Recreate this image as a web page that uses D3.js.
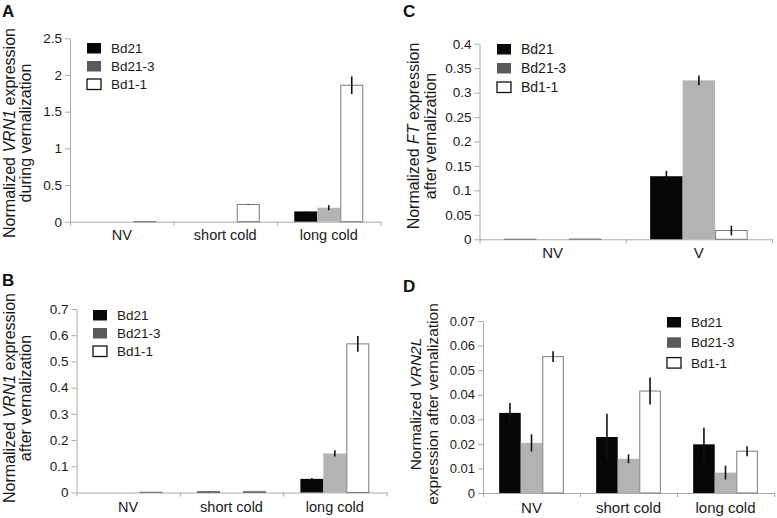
<!DOCTYPE html>
<html><head><meta charset="utf-8">
<script src="https://cdn.jsdelivr.net/npm/d3@7"></script>
<style>
html,body{margin:0;padding:0;background:#fff;}
svg{display:block;font-family:"Liberation Sans",Arial,sans-serif;}
</style></head>
<body><svg id="c" width="777" height="518"></svg>
<script>
// ---------- data ----------
const seriesNames = ["Bd21", "Bd21-3", "Bd1-1"];

const catsA = ["NV", "short cold", "long cold"];
const aBd21 = [0, 0, 0.14];
const aBd213 = [0, 0, 0.19];
const aBd11 = [0.002, 0.235, 1.86];
const aErrBd21 = [0, 0, 0.004];
const aErrBd213 = [0, 0, 0.035];
const aErrBd11 = [0, 0.005, 0.12];
const aTicks = [0, 0.5, 1, 1.5, 2, 2.5];

const catsB = ["NV", "short cold", "long cold"];
const bBd21 = [0, 0.004, 0.052];
const bBd213 = [0, 0, 0.149];
const bBd11 = [0.001, 0.004, 0.567];
const bErrBd21 = [0, 0.001, 0.003];
const bErrBd213 = [0, 0, 0.012];
const bErrBd11 = [0, 0, 0.03];
const bTicks = [0, 0.1, 0.2, 0.3, 0.4, 0.5, 0.6, 0.7];

const catsC = ["NV", "V"];
const cBd21 = [0.001, 0.129];
const cBd213 = [0, 0.325];
const cBd11 = [0.0005, 0.018];
const cErrBd21 = [0, 0.011];
const cErrBd213 = [0, 0.01];
const cErrBd11 = [0, 0.01];
const cTicks = [0, 0.05, 0.1, 0.15, 0.2, 0.25, 0.3, 0.35, 0.4];

const catsD = ["NV", "short cold", "long cold"];
const dBd21 = [0.0326, 0.0228, 0.0198];
const dBd213 = [0.0204, 0.0139, 0.0083];
const dBd11 = [0.0555, 0.0415, 0.017];
const dErrBd21 = [0.004, 0.0095, 0.0068];
const dErrBd213 = [0.0035, 0.0018, 0.0028];
const dErrBd11 = [0.0022, 0.0055, 0.002];
const dTicks = [0, 0.01, 0.02, 0.03, 0.04, 0.05, 0.06, 0.07];

// ---------- styles ----------
const barFill = ["#060606", "#b3b3b3", "#ffffff"];
const barStroke = ["none", "none", "#7a7a7a"];
const legFill = ["#060606", "#5a5a5a", "#ffffff"];
const legStroke = ["none", "none", "#111"];
const axisColor = "#aaaaaa";
const textColor = "#1a1a1a";

const svg = d3.select("#c");

function panel(o) {
  const g = svg.append("g");
  const x = d3.scaleBand().domain(o.cats).range([o.x0, o.x1]).paddingInner(0).paddingOuter(0);
  const bw = x.bandwidth();
  const xs = d3.scaleBand().domain(seriesNames).range([bw / 6, bw * 5 / 6]).padding(0);
  const y = d3.scaleLinear().domain([0, o.ticks[o.ticks.length - 1]]).range([o.y0, o.yTop]);

  // y axis
  const ya = g.append("g").attr("transform", `translate(${o.x0},0)`)
    .call(d3.axisLeft(y).tickValues(o.ticks).tickSize(5).tickSizeOuter(0).tickPadding(3)
      .tickFormat(d => d3.format("~g")(d)));
  ya.select(".domain").attr("stroke", axisColor);
  ya.selectAll(".tick line").attr("stroke", axisColor);
  ya.selectAll(".tick text").attr("fill", textColor).attr("font-size", o.tickFs)
    .attr("font-family", "Liberation Sans, Arial, sans-serif");

  // x axis boundaries
  const xb = d3.scaleLinear().domain([0, o.cats.length]).range([o.x0, o.x1]);
  const xa = g.append("g").attr("transform", `translate(0,${o.y0})`)
    .call(d3.axisBottom(xb).tickValues(d3.range(0, o.cats.length + 1)).tickSize(4).tickSizeOuter(0).tickFormat(""));
  xa.select(".domain").attr("stroke", axisColor);
  xa.selectAll(".tick line").attr("stroke", axisColor);

  // category labels
  g.selectAll(".cat").data(o.cats).join("text")
    .attr("x", d => x(d) + bw / 2).attr("y", o.y0 + o.catDy)
    .attr("text-anchor", "middle").attr("font-size", o.catFs).attr("fill", textColor)
    .text(d => d);

  // bars
  seriesNames.forEach((s, si) => {
    const vals = o.vals[si], errs = o.errs[si];
    g.selectAll(".b" + si).data(o.cats).join("rect")
      .attr("x", (d) => x(d) + xs(s) + (si === 2 ? 0.5 : 0))
      .attr("width", xs.bandwidth() - (si === 2 ? 1 : 0))
      .attr("y", (d, i) => y(vals[i]))
      .attr("height", (d, i) => Math.max(0, o.y0 - y(vals[i])))
      .attr("fill", barFill[si]).attr("stroke", barStroke[si]).attr("stroke-width", 1);
    g.selectAll(".e" + si).data(o.cats).join("line")
      .filter((d, i) => errs[i] > 0)
      .attr("x1", d => x(d) + xs(s) + xs.bandwidth() / 2)
      .attr("x2", d => x(d) + xs(s) + xs.bandwidth() / 2)
      .attr("y1", d => y(vals[o.cats.indexOf(d)] + errs[o.cats.indexOf(d)]))
      .attr("y2", d => y(vals[o.cats.indexOf(d)] - errs[o.cats.indexOf(d)]))
      .attr("stroke", "#111").attr("stroke-width", 1.6);
  });

  // legend
  seriesNames.forEach((s, si) => {
    const ly = o.legY + si * o.legStep;
    g.append("rect").attr("x", o.legX).attr("y", ly).attr("width", 14).attr("height", 10.5)
      .attr("fill", legFill[si]).attr("stroke", legStroke[si]).attr("stroke-width", 1.3);
    g.append("text").attr("x", o.legX + 24).attr("y", ly + 10)
      .attr("font-size", o.legFs).attr("fill", textColor).text(s);
  });

  // panel letter
  g.append("text").attr("x", o.letX).attr("y", o.letY).attr("font-size", 17)
    .attr("font-weight", "bold").attr("fill", "#111").text(o.letter);

  // y title
  const cy = o.titleCy;
  o.title.forEach((line, li) => {
    const t = g.append("text")
      .attr("transform", `translate(${o.titleX[li]},${cy}) rotate(-90)`)
      .attr("text-anchor", "middle").attr("font-size", o.titleFs).attr("fill", textColor);
    line.forEach(part => {
      t.append("tspan").attr("font-style", part[1] ? "italic" : "normal").text(part[0]);
    });
  });
}

panel({
  cats: catsA, vals: [aBd21, aBd213, aBd11], errs: [aErrBd21, aErrBd213, aErrBd11], ticks: aTicks,
  x0: 70, x1: 380.5, yTop: 38.3, y0: 221.7, tickFs: 13.5, catFs: 14.5, catDy: 18.5,
  legX: 87, legY: 43, legStep: 18, legFs: 13.5, letter: "A", letX: 2, letY: 17,
  title: [[["Normalized ", 0], ["VRN1", 1], [" expression", 0]], [["during vernalization", 0]]],
  titleX: [14.5, 31], titleCy: 133, titleFs: 16
});
panel({
  cats: catsB, vals: [bBd21, bBd213, bBd11], errs: [bErrBd21, bErrBd213, bErrBd11], ticks: bTicks,
  x0: 76.5, x1: 386.5, yTop: 309, y0: 492.5, tickFs: 13.5, catFs: 14.5, catDy: 19,
  legX: 93, legY: 310, legStep: 18, legFs: 13.5, letter: "B", letX: 2, letY: 286,
  title: [[["Normalized ", 0], ["VRN1", 1], [" expression", 0]], [["after vernalization", 0]]],
  titleX: [14.5, 31], titleCy: 398, titleFs: 16
});
panel({
  cats: catsC, vals: [cBd21, cBd213, cBd11], errs: [cErrBd21, cErrBd213, cErrBd11], ticks: cTicks,
  x0: 479.5, x1: 772, yTop: 43.7, y0: 239.3, tickFs: 13.5, catFs: 15, catDy: 19,
  legX: 497, legY: 44, legStep: 19, legFs: 14, letter: "C", letX: 403, letY: 17,
  title: [[["Normalized ", 0], ["FT", 1], [" expression", 0]], [["after vernalization", 0]]],
  titleX: [419, 436], titleCy: 136, titleFs: 16
});
panel({
  cats: catsD, vals: [dBd21, dBd213, dBd11], errs: [dErrBd21, dErrBd213, dErrBd11], ticks: dTicks,
  x0: 483, x1: 774, yTop: 321, y0: 493, tickFs: 13, catFs: 15, catDy: 19.5,
  legX: 667, legY: 317, legStep: 20.3, legFs: 13.5, letter: "D", letX: 403, letY: 292,
  title: [[["Normalized ", 0], ["VRN2L", 1]], [["expression after vernalization", 0]]],
  titleX: [421, 438], titleCy: 404, titleFs: 15.5
});
</script></body></html>
